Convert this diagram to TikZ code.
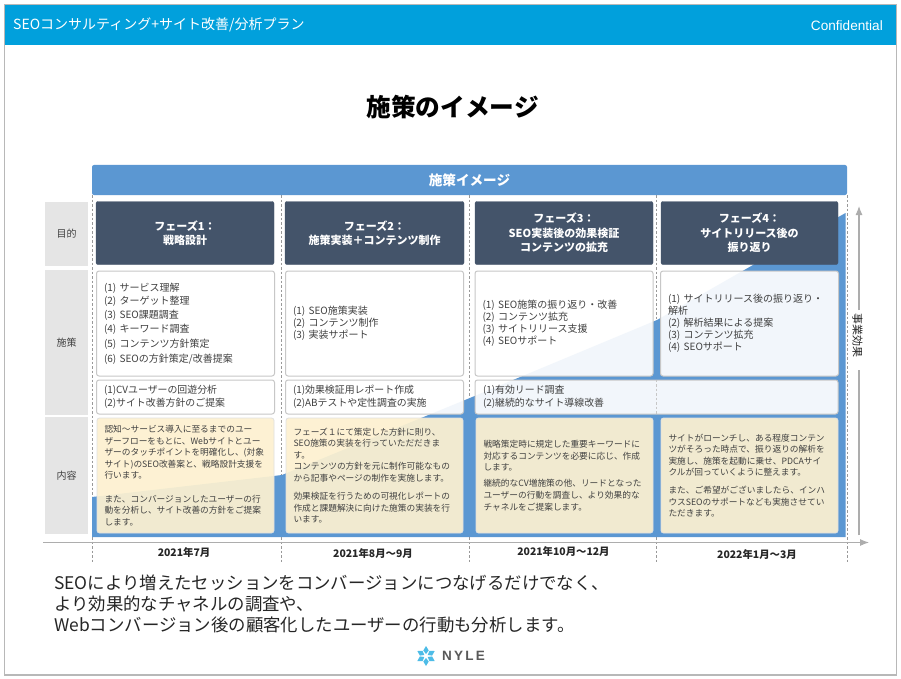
\documentclass[tikz,border=0pt]{standalone}
\usepackage{fontspec}
\setmainfont{Liberation Sans}
\newfontfamily\jp{Noto Sans CJK JP}
\usetikzlibrary{calc,arrows.meta}
\definecolor{topbar}{HTML}{01A0DC}
\definecolor{blueb}{HTML}{5B97D2}
\definecolor{navy}{HTML}{44546A}
\definecolor{greyb}{HTML}{E5E5E5}
\definecolor{cream}{HTML}{FDF1D0}
\definecolor{txt}{HTML}{404040}
\tikzset{x=1pt,y=-1pt,
 lab/.style={fill=greyb,minimum width=43pt,text=txt,font=\jp\fontsize{10}{12}\selectfont,inner sep=0pt},
 phase/.style={fill=navy,draw=navy,rounded corners=2pt,text=white,align=center,minimum height=63pt,font=\jp\bfseries\fontsize{11}{14.5}\selectfont,inner sep=0pt},
 itembox/.style={draw=black!22,line width=1pt,rounded corners=2.5pt,align=left,text=txt,fill=white,fill opacity=.92,text opacity=1,text width=163pt,minimum width=178pt,minimum height=105pt,inner sep=0pt,font=\jp\fontsize{10}{12}\selectfont},
 smallbox/.style={itembox,minimum height=34pt,font=\jp\fontsize{9.9}{13}\selectfont},
 descbox/.style={draw=black!12,line width=.8pt,fill=cream,fill opacity=.93,text opacity=1,rounded corners=2.5pt,align=left,text=txt,text width=162pt,minimum width=177pt,minimum height=115pt,inner sep=0pt,font=\jp\fontsize{8.7}{11.6}\selectfont},
 guide/.style={draw=black!40,dash pattern=on 2.5pt off 2pt,line width=.8pt},
 axisline/.style={draw=black!32,line width=1.1pt},
 axisarrow/.style={axisline,-{Latex[length=9pt,width=7pt]}},
 datelab/.style={font=\jp\bfseries\fontsize{10.4}{12}\selectfont,text=black!85,inner sep=0pt}}
\begin{document}
\begin{tikzpicture}
\useasboundingbox (0,0) rectangle (901,679);
\fill[white] (0,0) rectangle (901,679);
\draw[black!28,line width=1.2pt] (4.5,4.5) rectangle (896.5,675);
\fill[topbar] (5,5) rectangle (896,45);
\node[anchor=west,text=white,font=\jp\fontsize{14}{16}\selectfont,inner sep=0pt] (ttl) at (13,25) {SEOコンサルティング+サイト改善/分析プラン};
\node[anchor=east,text=white,font=\fontsize{13.6}{15}\selectfont,inner sep=0pt] (conf) at (883,26) {Confidential};
\node[font=\jp\bfseries\fontsize{24.7}{28}\selectfont,inner sep=0pt] (head) at (452.5,107) {施策のイメージ};
% guides
\foreach \x in {92,281,469.5,656,847}{\draw[guide] (\x,195) -- (\x,563);}
% wedge
\fill[blueb] (92,537) -- (92,497) -- (282,475) -- (465,400) -- (657,320) -- (753,265) -- (845.5,213) -- (845.5,537) -- cycle;
% header
\fill[blueb,rounded corners=2pt] (92,165) rectangle (847,195);
\node[text=white,font=\jp\bfseries\fontsize{13.6}{15}\selectfont,inner sep=0pt] (hd) at (469.5,180) {施策イメージ};
% left labels
\node[lab,minimum height=64pt] (l1) at (66.5,234) {目的};
\node[lab,minimum height=145pt] (l2) at (66.5,342.5) {施策};
\node[lab,minimum height=117pt] (l3) at (66.5,475.5) {内容};
% phases
\node[phase,minimum width=178pt] (p1) at (185,233) {フェーズ1：\\戦略設計};
\node[phase,minimum width=179pt] (p2) at (374.5,233) {フェーズ2：\\施策実装＋コンテンツ制作};
\node[phase,minimum width=178pt] (p3) at (564,233) {フェーズ3：\\SEO実装後の効果検証\\コンテンツの拡充};
\node[phase,minimum width=177pt] (p4) at (749.5,233) {フェーズ4：\\サイトリリース後の\\振り返り};
% item boxes
\node[itembox] (a1) at (185.5,323.5) {(1) サービス理解\\[1.3pt](2) ターゲット整理\\[2.2pt](3) SEO課題調査\\[2.2pt](4) キーワード調査\\[2.6pt](5) コンテンツ方針策定\\[2.6pt](6) SEOの方針策定/改善提案};
\node[itembox] (a2) at (374.5,323.5) {(1) SEO施策実装\\(2) コンテンツ制作\\(3) 実装サポート};
\node[itembox] (a3) at (564,323.5) {(1) SEO施策の振り返り・改善\\(2) コンテンツ拡充\\(3) サイトリリース支援\\(4) SEOサポート};
\node[itembox] (a4) at (749.5,323.5) {(1) サイトリリース後の振り返り・\\解析\\(2) 解析結果による提案\\(3) コンテンツ拡充\\(4) SEOサポート};
\node[smallbox] (b1) at (185.5,397) {(1)CVユーザーの回遊分析\\(2)サイト改善方針のご提案};
\node[smallbox] (b2) at (374.5,397) {(1)効果検証用レポート作成\\(2)ABテストや定性調査の実施};
\node[smallbox,text width=347pt,minimum width=363pt] (b3) at (656.5,397) {(1)有効リード調査\\(2)継続的なサイト導線改善};
\draw[guide,black!22] (b3.north) -- (b3.south);
% descriptions
\node[descbox] (c1) at (185.5,475.5) {認知～サービス導入に至るまでのユー\\ザーフローをもとに、Webサイトとユー\\ザーのタッチポイントを明確化し、(対象\\サイト)のSEO改善案と、戦略設計支援を\\行います。\\[11.6pt]また、コンバージョンしたユーザーの行\\動を分析し、サイト改善の方針をご提案\\します。};
\node[descbox] (c2) at (374.5,475.5) {フェーズ１にて策定した方針に則り、\\SEO施策の実装を行っていただだきま\\す。\\コンテンツの方針を元に制作可能なもの\\から記事やページの制作を実施します。\\[6.5pt]効果検証を行うための可視化レポートの\\作成と課題解決に向けた施策の実装を行\\います。};
\node[descbox] (c3) at (564.5,475.5) {戦略策定時に規定した重要キーワードに\\対応するコンテンツを必要に応じ、作成\\します。\\[4.5pt]継続的なCV増施策の他、リードとなった\\ユーザーの行動を調査し、より効果的な\\チャネルをご提案します。};
\node[descbox] (c4) at (749.5,475.5) {サイトがローンチし、ある程度コンテン\\ツがそろった時点で、振り返りの解析を\\実施し、施策を起動に乗せ、PDCAサイ\\クルが回っていくように整えます。\\[6pt]また、ご希望がございましたら、インハ\\ウスSEOのサポートなども実施させてい\\ただきます。};
% axes
\coordinate (ax0) at (43,542.5);
\coordinate (ax1) at (869,542.5);
\coordinate (ay0) at (859,535);
\coordinate (yd) at (859,370);
\coordinate (yu) at (859,310);
\coordinate (ay1) at (859,206);
\node[inner sep=0pt,rotate=-90,font=\jp\fontsize{11}{12}\selectfont,text=black!85] (yl) at (857.5,335) {事業効果};
\draw[axisarrow] (ax0) -- (ax1);
\draw[axisline] (ay0) -- (yd);
\draw[axisarrow] (yu) -- (ay1);
% dates
\node[datelab] (d1) at (184,553) {2021年7月};
\node[datelab] (d2) at (373,554) {2021年8月～9月};
\node[datelab] (d3) at (563.5,552) {2021年10月～12月};
\node[datelab] (d4) at (757,555) {2022年1月～3月};
% caption
\node[anchor=west,inner sep=0pt,align=left,text=black!85,font=\jp\fontsize{17.4}{21}\selectfont] (cap) at (54,604) {SEOにより増えたセッションをコンバージョンにつなげるだけでなく、\\より効果的なチャネルの調査や、\\Webコンバージョン後の顧客化したユーザーの行動も分析します。};
% logo
\node[anchor=west,inner sep=0pt,font=\bfseries\fontsize{13.5}{14}\selectfont,text=black!65] (logo) at (442,656) {N\,Y\,L\,E};
\foreach \a in {0,60,...,300}{
 \fill[topbar!70,rotate around={\a+30:(426,656)}] (428,656) -- (431.5,653.3) -- (436,656) -- (431.5,658.7) -- cycle;}
\end{tikzpicture}
\end{document}
